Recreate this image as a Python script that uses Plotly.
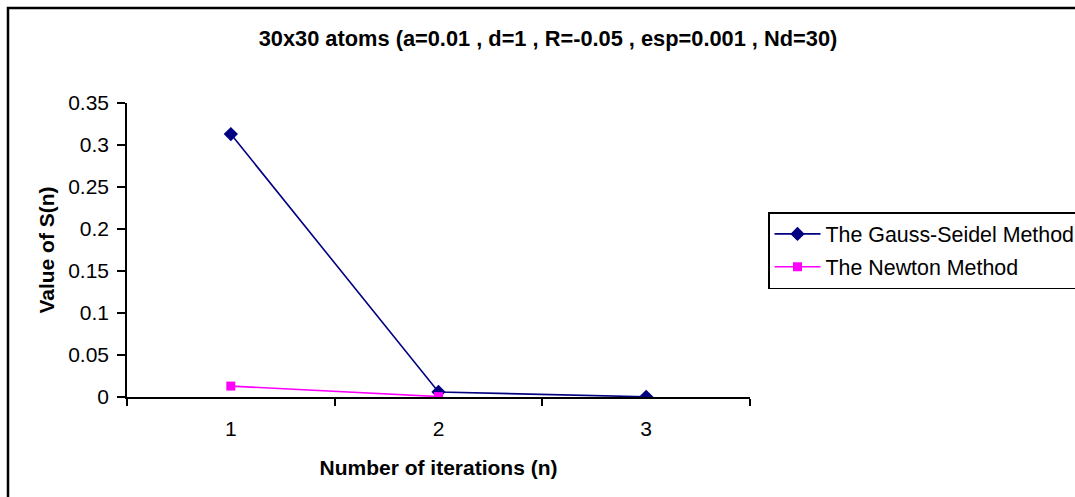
import plotly.graph_objects as go

iterations = ["1", "2", "3"]
gauss_seidel = [0.313, 0.006, 0.0002]
newton_iters = ["1", "2"]
newton = [0.013, 0.0005]

title_text = "30x30 atoms (a=0.01 , d=1 , R=-0.05 , esp=0.001 , Nd=30)"
x_title = "Number of iterations (n)"
y_title = "Value of S(n)"
y_ticks = [0, 0.05, 0.1, 0.15, 0.2, 0.25, 0.3, 0.35]
y_ticktext = ["0", "0.05", "0.1", "0.15", "0.2", "0.25", "0.3", "0.35"]

FONT = "Liberation Sans, Arial, sans-serif"
W, H = 1075, 497
L, R, T, B = 127, 325, 103, 100

fig = go.Figure()
fig.add_trace(go.Scatter(
    x=iterations, y=gauss_seidel, mode="lines+markers",
    name="The Gauss-Seidel Method", legendgroup="gs",
    line=dict(color="#000080", width=1.6),
    marker=dict(symbol="diamond", size=11, color="#000080"),
))
fig.add_trace(go.Scatter(
    x=newton_iters, y=newton, mode="lines+markers",
    name="The Newton Method", legendgroup="nw",
    line=dict(color="#FF00FF", width=1.6),
    marker=dict(symbol="square", size=9, color="#FF00FF"),
))

pw = W - L - R
ph = H - T - B
def px2x(p):
    return (p - L) / pw
def py2y(p):
    return (H - B - p) / ph

fig.update_layout(
    width=W, height=H,
    margin=dict(l=L, r=R, t=T, b=B, autoexpand=False),
    paper_bgcolor="white", plot_bgcolor="white",
    font=dict(family=FONT, size=21, color="black"),
    title=dict(text="<b>" + title_text + "</b>", x=548 / W, xanchor="center",
               xref="container", y=1 - 38 / H, yref="container", yanchor="middle",
               font=dict(family=FONT, size=21.8, color="black")),
    showlegend=True,
    legend=dict(x=px2x(768), y=py2y(212), xanchor="left", yanchor="top",
                bordercolor="black", borderwidth=1.5, bgcolor="white",
                font=dict(family=FONT, size=21.4, color="black"),
                itemwidth=46,
                traceorder="grouped", tracegroupgap=2),
    xaxis=dict(
        type="category", range=[-0.5, 2.5], tickson="boundaries",
        showline=True, linecolor="black", linewidth=1.5, mirror=False,
        ticks="outside", ticklen=7, tickcolor="black", tickwidth=1.5,
        showgrid=False, zeroline=False,
        ticklabelstandoff=12,
        tickfont=dict(family=FONT, size=21, color="black"),
        title=dict(text="<b>" + x_title + "</b>", standoff=21,
                   font=dict(family=FONT, size=21, color="black")),
        automargin=False,
    ),
    yaxis=dict(
        range=[0, 0.35], tickvals=y_ticks, ticktext=y_ticktext,
        showline=True, linecolor="black", linewidth=1.5,
        ticks="outside", ticklen=8, tickcolor="black", tickwidth=1.5,
        showgrid=False, zeroline=False,
        ticklabelstandoff=4,
        tickfont=dict(family=FONT, size=21, color="black"),
        title=dict(text="<b>" + y_title + "</b>", standoff=8,
                   font=dict(family=FONT, size=21, color="black")),
        automargin=False,
    ),
    shapes=[dict(type="rect", xref="paper", yref="paper",
                 x0=px2x(8), x1=px2x(1200), y0=py2y(700), y1=py2y(8),
                 line=dict(color="black", width=2.5), fillcolor="rgba(0,0,0,0)",
                 layer="below")],
)

fig.write_html("out.html")
